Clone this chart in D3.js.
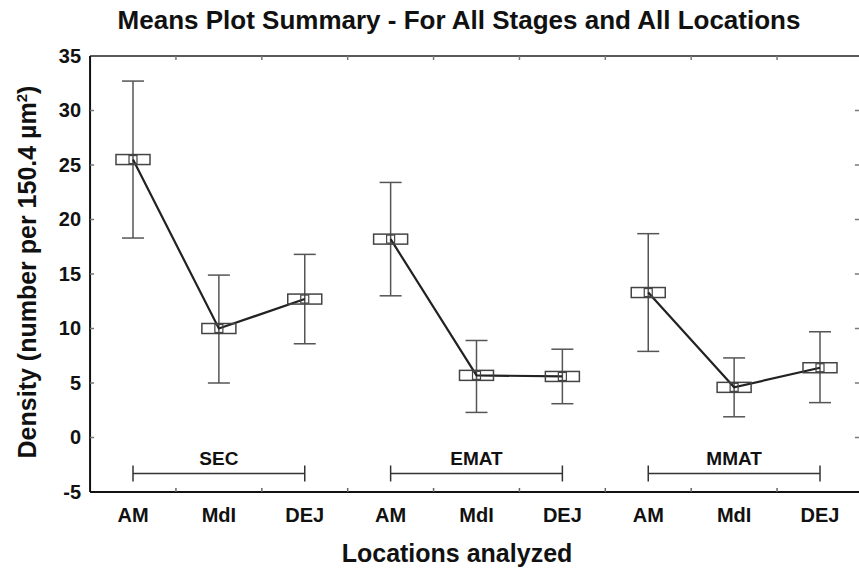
<!DOCTYPE html>
<html><head><meta charset="utf-8">
<script src="https://cdn.jsdelivr.net/npm/d3@7"></script>
<style>body{margin:0;background:#fff}svg{display:block}text{font-family:"Liberation Sans",Arial,sans-serif;font-weight:bold;fill:#111}</style>
</head><body><svg id="c" width="859" height="573"></svg>
<script>
const groups = ["SEC","EMAT","MMAT"];
const locations = ["AM","MdI","DEJ"];
const means = [25.5,10.0,12.7, 18.2,5.7,5.6, 13.3,4.6,6.4];
const upper = [32.7,14.9,16.8, 23.4,8.9,8.1, 18.7,7.3,9.7];
const lower = [18.3,5.0,8.6, 13.0,2.3,3.1, 7.9,1.9,3.2];
const yTicks = [35,30,25,20,15,10,5,0,-5];
const bracketLevel = -3.3;

(function(){
const svg = d3.select("#c");
const cats = d3.range(9);
const x = d3.scalePoint().domain(cats).range([133, 820]);
const step = x.step();
const pL = x(0) - step/2, pR = x(8) + step/2, pT = 56, pB = 492;
const y = d3.scaleLinear().domain([-5,35]).range([pB, pT]);

// frame
svg.append("line").attr("x1",pL).attr("x2",pR).attr("y1",pT).attr("y2",pT).attr("stroke","#222").attr("stroke-width",1.6);
svg.append("line").attr("x1",pL).attr("x2",pL).attr("y1",pT).attr("y2",pB).attr("stroke","#111").attr("stroke-width",2);
svg.append("line").attr("x1",pL).attr("x2",pR).attr("y1",pB).attr("y2",pB).attr("stroke","#111").attr("stroke-width",2);
svg.append("line").attr("x1",pR).attr("x2",pR).attr("y1",pT).attr("y2",pB).attr("stroke","#111").attr("stroke-width",2);

// y axis
const ya = svg.append("g").attr("transform",`translate(${pL},0)`)
  .call(d3.axisLeft(y).tickValues(yTicks).tickFormat(d=>String(d)).tickSize(0).tickPadding(9));
ya.select(".domain").remove();
ya.selectAll("text").style("font-size","20px").style("font-family","Liberation Sans, Arial, sans-serif").style("font-weight","bold").attr("fill","#111");
svg.append("g").selectAll("line").data(yTicks.slice(1,-1)).join("line")
  .attr("x1",pL).attr("x2",pL+4).attr("y1",d=>y(d)).attr("y2",d=>y(d)).attr("stroke","#777").attr("stroke-width",1.5);
svg.append("g").selectAll("line").data(yTicks.slice(1,-1)).join("line")
  .attr("x1",pR-8).attr("x2",pR-4).attr("y1",d=>y(d)).attr("y2",d=>y(d)).attr("stroke","#777").attr("stroke-width",1.5);

// x axis labels
const xLabels = cats.map(i=>locations[i%3]);
svg.append("g").selectAll("text").data(cats).join("text")
  .attr("x",d=>x(d)).attr("y",pB+30).attr("text-anchor","middle").style("font-size","20px")
  .text(d=>xLabels[d]);
svg.append("g").selectAll("line").data(d3.range(8)).join("line")
  .attr("x1",d=>x(d)+step/2).attr("x2",d=>x(d)+step/2).attr("y1",pB).attr("y2",pB-4)
  .attr("stroke","#666").attr("stroke-width",1.5);
svg.append("g").selectAll("line").data(d3.range(8)).join("line")
  .attr("x1",d=>x(d)+step/2).attr("x2",d=>x(d)+step/2).attr("y1",pT).attr("y2",pT+4)
  .attr("stroke","#777").attr("stroke-width",1.5);

// group brackets
groups.forEach((g,gi)=>{
  const x0 = x(gi*3), x1 = x(gi*3+2), yy = y(bracketLevel);
  const b = svg.append("g").attr("stroke","#333").attr("stroke-width",1.5);
  b.append("line").attr("x1",x0).attr("x2",x1).attr("y1",yy).attr("y2",yy);
  b.append("line").attr("x1",x0).attr("x2",x0).attr("y1",yy-8).attr("y2",yy+8);
  b.append("line").attr("x1",x1).attr("x2",x1).attr("y1",yy-8).attr("y2",yy+8);
  svg.append("text").attr("x",(x0+x1)/2).attr("y",yy-8).attr("text-anchor","middle").style("font-size","19px").text(g);
});

// error bars
const eb = svg.append("g").attr("stroke","#555").attr("stroke-width",1.5);
cats.forEach(i=>{
  eb.append("line").attr("x1",x(i)).attr("x2",x(i)).attr("y1",y(upper[i])).attr("y2",y(lower[i]));
  eb.append("line").attr("x1",x(i)-11).attr("x2",x(i)+11).attr("y1",y(upper[i])).attr("y2",y(upper[i]));
  eb.append("line").attr("x1",x(i)-11).attr("x2",x(i)+11).attr("y1",y(lower[i])).attr("y2",y(lower[i]));
});

// mean lines per group
const line = d3.line().x(d=>x(d)).y(d=>y(means[d]));
groups.forEach((g,gi)=>{
  svg.append("path").datum([gi*3,gi*3+1,gi*3+2]).attr("d",line)
    .attr("fill","none").attr("stroke","#222").attr("stroke-width",2.2);
});

// boxes
const bx = svg.append("g");
cats.forEach(i=>{
  bx.append("rect").attr("x",x(i)-17).attr("y",y(means[i])-5).attr("width",34).attr("height",10)
    .attr("fill","none").attr("stroke","#444").attr("stroke-width",1.5);
  bx.append("rect").attr("x",x(i)-4).attr("y",y(means[i])-4).attr("width",8).attr("height",8)
    .attr("fill","none").attr("stroke","#444").attr("stroke-width",1.2);
});

// titles
svg.append("text").attr("x",459).attr("y",29).attr("text-anchor","middle").style("font-size","26px")
  .text("Means Plot Summary - For All Stages and All Locations");
svg.append("text").attr("x",457).attr("y",562).attr("text-anchor","middle").style("font-size","25px")
  .text("Locations analyzed");
const yl = svg.append("text").attr("transform","translate(36,272) rotate(-90)").attr("text-anchor","middle").style("font-size","25px");
yl.append("tspan").text("Density (number per 150.4 µm");
yl.append("tspan").attr("dy",-9).style("font-size","15px").text("2");
yl.append("tspan").attr("dy",9).text(")");
})();
</script></body></html>
